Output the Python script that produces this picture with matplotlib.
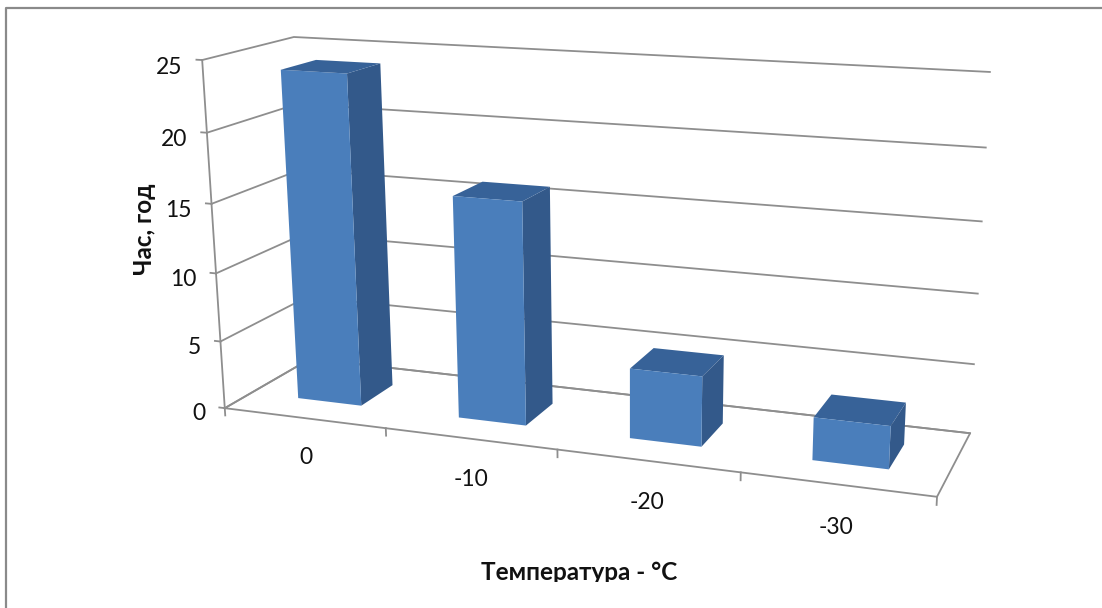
import numpy as np
import matplotlib
matplotlib.use("Agg")
import matplotlib.pyplot as plt
from matplotlib.lines import Line2D
from matplotlib.transforms import Bbox
from mpl_toolkits.mplot3d import Axes3D, proj3d  # noqa: F401

# Дані діаграми
temperatures = ["0", "-10", "-20", "-30"]
hours = [24, 16, 5, 3]
value_ticks = [0, 5, 10, 15, 20, 25]
value_max = 25

WIDTH, HEIGHT = 1102, 608
FONT = ["Lato", "Noto Sans"]
GRID = "#8e8e8e"
FRONT, TOP, SIDE = "#4a7ebb", "#376298", "#33598a"
BAR_WIDTH = 0.4

# Опорні точки камери: кути коробки діаграми (x, глибина, висота) -> пікселі
box_corners = [(0, 0, 0), (1, 0, 0), (1, 1, 0), (0, 1, 0), (0, 0, 1), (1, 1, 1), (0, 1, 1)]
box_pixels = [(224, 408), (937, 497), (970, 433), (311, 359), (203, 60), (990, 72), (293, 37)]


def camera_matrix(n_cats, z_max):
    rows = []
    for (x, y, z), (u, v) in zip(box_corners, box_pixels):
        p = [x, y, z, 1]
        rows.append(p + [0, 0, 0, 0] + [-u * c for c in p])
        rows.append([0, 0, 0, 0] + p + [-v * c for c in p])
    P = np.linalg.svd(np.array(rows, dtype=float))[2][-1].reshape(3, 4)
    P = P @ np.diag([1 / n_cats, 1, 1 / z_max, 1])
    P = P / (P[2] @ [n_cats / 2, 0.5, z_max / 2, 1])
    # третій рядок дає справжню глибину для сортування граней
    return np.vstack([P[0], P[1], P[2] - [0, 0, 0, 1], P[2]])


fig = plt.figure(figsize=(WIDTH / 100, HEIGHT / 100), dpi=100, facecolor="white")
ax = fig.add_axes([0, 0, 1, 1], projection="3d")
ax.set_axis_off()
ax.set_xticks([])
ax.set_yticks([])
ax.set_zticks([])
ax.computed_zorder = False
ax.set_proj_type("ortho")  # без цього лінії обрізаються за межами [-1, 1]
M = camera_matrix(len(hours), value_max)
ax.get_proj = lambda: M
ax.apply_aspect = lambda position=None: None
ax.viewLim.intervalx = (0, WIDTH)
ax.viewLim.intervaly = (HEIGHT, 0)


def axis_label(x, y, z, text, ha):
    # підпис ставимо як звичайний текст у спроєктованій точці
    u, v, _ = proj3d.proj_transform(x, y, z, M)
    fig.text(u / WIDTH, 1 - v / HEIGHT, text, ha=ha, va="center", fontsize=16.5,
             family=FONT, color="#111111")


n = len(hours)

# Сітка на лівій і задній стінках
for v in value_ticks:
    ax.plot([0, 0, n], [0, 1, 1], [v, v, v], color=GRID, lw=1.3, zorder=1)
    ax.plot([-0.035, 0], [0, 0], [v, v], color=GRID, lw=1.3, zorder=1)
    axis_label(-0.125, 0, v - 0.6, str(v), "right")

# Підлога та вертикальна вісь
ax.plot([0, n, n, 0, 0], [0, 0, 1, 1, 0], [0, 0, 0, 0, 0], color=GRID, lw=1.3, zorder=1)
ax.plot([0, 0], [0, 0], [0, value_max], color=GRID, lw=1.3, zorder=1)
for i in range(n + 1):
    ax.plot([i, i], [0, 0], [0, -0.55], color=GRID, lw=1.3, zorder=1)

# Стовпчики: невидимі грані (низ, зад, ліва) прозорі
xpos = np.arange(n) + (1 - BAR_WIDTH) / 2
ypos = np.full(n, (1 - BAR_WIDTH) / 2)
clear = (0, 0, 0, 0)
face_colors = [clear, TOP, FRONT, clear, clear, SIDE] * n
ax.bar3d(xpos, ypos, np.zeros(n), BAR_WIDTH, BAR_WIDTH, hours, color=face_colors,
         shade=False, zorder=2)

for i, label in enumerate(temperatures):
    axis_label(i + 0.5, 0, -3.0, label, "center")

# Рамка області діаграми відкрита вправо і вниз
fig.add_artist(Line2D([6 / WIDTH, 6 / WIDTH, 1], [0, 1 - 8 / HEIGHT, 1 - 8 / HEIGHT],
                      color="#8a8a8a", lw=1.6))

fig.text(144 / WIDTH, 1 - 229 / HEIGHT, "Час, год", rotation=90, ha="center", va="center",
         fontsize=17.5, fontweight="bold", family=FONT, color="#111111")
xlabel = fig.text(579 / WIDTH, 1 - 572 / HEIGHT, "Температура - °C", ha="center", va="center",
                  fontsize=17.5, fontweight="bold", family=FONT, color="#111111")
xlabel.set_clip_box(Bbox([[0, HEIGHT - 582], [WIDTH, HEIGHT]]))
xlabel.set_clip_on(True)

fig.savefig("out.png", dpi=100)
